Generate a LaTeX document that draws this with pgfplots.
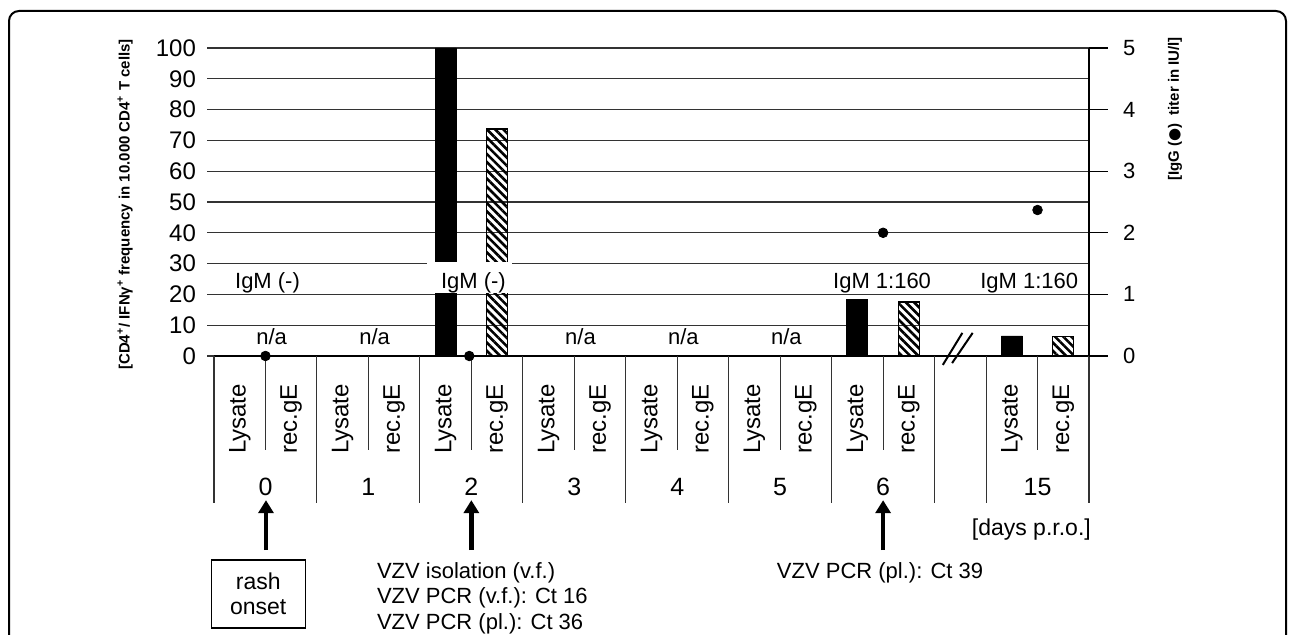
\documentclass[border=0pt]{standalone}
\usepackage{fontspec}
\setmainfont{Liberation Sans}
\newfontfamily\dejavu{DejaVu Sans}
\usepackage{pgfplots}
\pgfplotsset{compat=1.18}
\usetikzlibrary{patterns.meta,arrows.meta}
\begin{document}
\begin{tikzpicture}
\useasboundingbox (0,0) rectangle (645pt,-317.5pt);
% outer frame of the figure
\draw[line width=1pt, rounded corners=5pt] (4.5pt,-340pt) -- (4.5pt,-5.5pt) -- (643pt,-5.5pt) -- (643pt,-340pt);
\begin{axis}[
  at={(107pt,-178pt)}, anchor=south west,
  scale only axis, width=437.5pt, height=154pt,
  xmin=0, xmax=8.5, ymin=0, ymax=100,
  axis y line*=left, axis x line*=bottom,
  y axis line style={draw=none},
  x axis line style={line width=0.6pt, -},
  ytick={0,10,...,100},
  tick align=outside, major tick length=3.5pt,
  ymajorgrids, grid style={black!80, line width=0.55pt},
  y tick style={black!80, line width=0.55pt},
  x tick style={draw=none},
  /pgf/number format/assume math mode=true,
  yticklabel style={font=\fontsize{12}{14}\selectfont, xshift=-2pt},
  xtick={0.5,1.5,2.5,3.5,4.5,5.5,6.5,8},
  xticklabels={0,1,2,3,4,5,6,15},
  xticklabel style={font=\fontsize{12.5}{15}\selectfont, anchor=center, yshift=-62pt},
  extra x ticks={0.25,0.75,1.25,1.75,2.25,2.75,3.25,3.75,4.25,4.75,5.25,5.75,6.25,6.75,7.75,8.25},
  extra x tick labels={Lysate,rec.gE,Lysate,rec.gE,Lysate,rec.gE,Lysate,rec.gE,Lysate,rec.gE,Lysate,rec.gE,Lysate,rec.gE,Lysate,rec.gE},
  extra x tick style={xticklabel style={font=\fontsize{12}{14}\selectfont, yshift=34pt, rotate=90}},
  clip=false,
]
% Lysate bars
\addplot[ybar, bar width=10.5pt, bar shift=0pt, fill=black, draw=black]
  coordinates {(2.25,100) (6.25,18.5) (7.75,6.5)};
% rec.gE bars
\addplot[ybar, bar width=10.5pt, bar shift=0pt, draw=black, line width=0.6pt,
  pattern={Lines[angle=-45, distance=2.9pt, line width=1.3pt]}]
  coordinates {(2.75,73.7) (6.75,17.5) (8.25,6.3)};
% axis break
\addplot[fill=white, draw=none] coordinates {(2.07,20.6) (2.89,20.6) (2.89,30.4) (2.07,30.4)} -- cycle;
% annotations in plot
\pgfplotsinvokeforeach{0.56,1.56,3.56,4.56,5.56}{
  \node[font=\fontsize{11}{13}\selectfont] at (axis cs:#1,6.2) {n/a};
}
\node[font=\fontsize{11}{13}\selectfont] at (axis cs:0.52,23.8) {IgM (-)};
\node[font=\fontsize{11}{13}\selectfont] at (axis cs:2.52,23.8) {IgM (-)};
\node[font=\fontsize{11}{13}\selectfont] at (axis cs:6.49,23.8) {IgM 1:160};
\node[font=\fontsize{11}{13}\selectfont] at (axis cs:7.92,23.8) {IgM 1:160};
% break mark
\draw[line width=1pt] (axis cs:7.08,-2.9) -- (axis cs:7.27,7.5);
\draw[line width=1pt] (axis cs:7.17,-2.3) -- (axis cs:7.37,7.5);
% table below the axis
\pgfplotsinvokeforeach{0,1,2,3,4,5,6,7,7.5,8.5}{
  \draw[black!80, line width=0.55pt] (axis cs:#1,0) -- (axis cs:#1,-47.7);
}
\pgfplotsinvokeforeach{0.5,1.5,2.5,3.5,4.5,5.5,6.5,8}{
  \draw[black!80, line width=0.55pt] (axis cs:#1,0) -- (axis cs:#1,-30.5);
}
% arrows
\pgfplotsinvokeforeach{0.505,2.5,6.5}{
  \draw[line width=2.2pt, -{Triangle[width=7.5pt,length=6.5pt]}] (axis cs:#1,-63) -- (axis cs:#1,-46.8);
}
\node[font=\fontsize{11.5}{13}\selectfont] at (axis cs:7.94,-56.5) {[days p.r.o.]};
\node[draw, line width=0.6pt, minimum width=47pt, minimum height=34pt, align=center,
  font=\fontsize{11.5}{12.5}\selectfont] at (axis cs:0.43,-77.3) {rash\\onset};
\node[anchor=west, align=left, font=\fontsize{11}{12.75}\selectfont] at (axis cs:1.515,-78.6)
  {VZV isolation (v.f.)\\VZV PCR (v.f.): Ct 16\\VZV PCR (pl.): Ct 36};
\node[anchor=west, font=\fontsize{11}{13}\selectfont] at (axis cs:5.40,-70.5) {VZV PCR (pl.): Ct 39};
\end{axis}
\begin{axis}[
  at={(107pt,-178pt)}, anchor=south west,
  scale only axis, width=437.5pt, height=154pt,
  xmin=0, xmax=8.5, ymin=0, ymax=5,
  axis x line=none, axis y line*=right,
  y axis line style={line width=0.6pt, -},
  ytick={0,1,2,3,4,5},
  tick align=outside, major tick length=9.5pt,
  y tick style={black, line width=0.6pt},
  /pgf/number format/assume math mode=true,
  yticklabel style={font=\fontsize{11}{13}\selectfont, xshift=4pt},
  clip=false,
]
\addplot[only marks, mark=*, mark size=2.4pt, black] coordinates {(0.5,0) (2.48,0) (6.5,2.0) (8.0,2.37)};
\end{axis}
\node[rotate=90, anchor=east, font=\bfseries\fontsize{7.5}{9}\selectfont] at (62.5pt,-16pt)
  {[CD4\textsuperscript{+}/ IFNγ\textsuperscript{+} frequency in 10.000 CD4\textsuperscript{+} T cells]};
\node[rotate=90, anchor=east, font=\bfseries\fontsize{7.5}{9}\selectfont] at (587.5pt,-15pt)
  {[IgG ({\dejavu ●})\ \ titer in IU/l]};
\end{tikzpicture}
\end{document}
